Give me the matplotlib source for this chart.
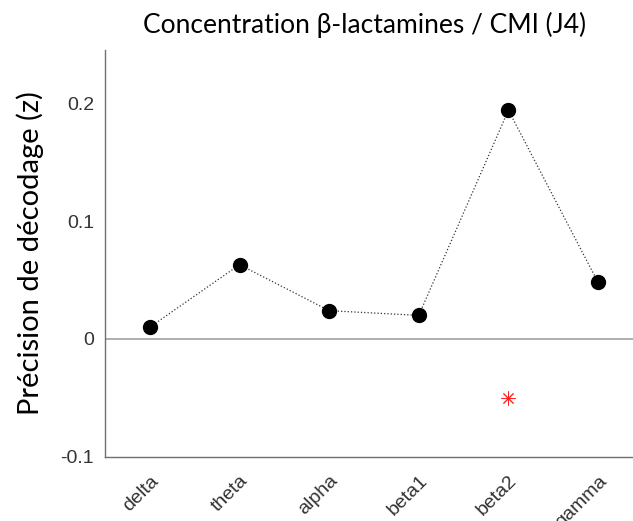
import matplotlib
matplotlib.use("Agg")
from matplotlib import pyplot as plt
from matplotlib import transforms

bands = ["delta", "theta", "alpha", "beta1", "beta2", "gamma"]
decoding_z = [0.010, 0.063, 0.024, 0.020, 0.194, 0.048]
signif_band = ["beta2"]
signif_y = [-0.05]

fig = plt.figure(figsize=(6.33, 5.21), dpi=100)
ax = fig.add_axes([0.166, 0.123, 0.834, 0.781])

x = list(range(1, len(bands) + 1))
ax.axhline(0, color="#a8a8a8", linewidth=1.3, zorder=1)
ax.plot(x, decoding_z, linestyle=":", color="#333333", linewidth=0.9, zorder=2)
ax.plot(x, decoding_z, linestyle="none", marker="o", markersize=10,
        color="black", zorder=3)
sx = [bands.index(b) + 1 for b in signif_band]
ax.plot(sx, signif_y, linestyle="none", marker=(8, 2, 0), markersize=10,
        markeredgewidth=0.7, color="#ff2020", zorder=3)

ax.set_xlim(0.5, 6.39)
ax.set_ylim(-0.1, 0.245)
ax.set_yticks([-0.1, 0, 0.1, 0.2])
ax.set_yticklabels(["-0.1", "0", "0.1", "0.2"], family="Liberation Sans", fontsize=14)
ax.set_xticks(x)
ax.set_xticklabels(bands, family="Liberation Sans", fontsize=14,
                   rotation=45, ha="right", va="top", rotation_mode="anchor")
shift = transforms.ScaledTranslation(2 / 100, 0, fig.dpi_scale_trans)
for lbl in ax.get_xticklabels():
    lbl.set_transform(lbl.get_transform() + shift)
ax.tick_params(length=0, colors="#333333")
ax.tick_params(axis="x", pad=11)
ax.tick_params(axis="y", pad=8)

for side in ["top", "right"]:
    ax.spines[side].set_visible(False)
for side in ["left", "bottom"]:
    ax.spines[side].set_color("#707070")
    ax.spines[side].set_linewidth(1.0)

fig.text(365 / 633, 1 - 25 / 521, "Concentration β-lactamines / CMI (J4)",
         family="Lato", fontsize=19, ha="center", va="center")
ax.set_ylabel("Précision de décodage (z)", family="Lato", fontsize=21, labelpad=12)

fig.savefig("out.png", dpi=100)
